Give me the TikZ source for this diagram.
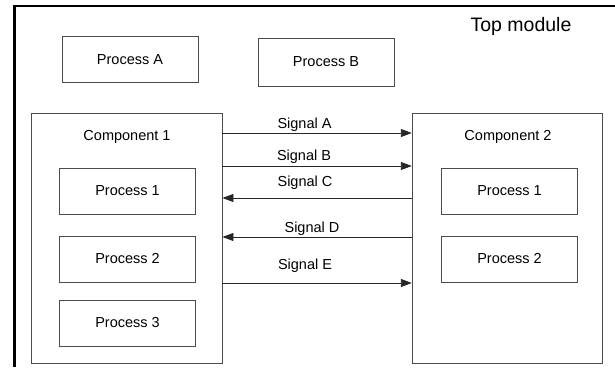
\documentclass[tikz,border=0pt]{standalone}
\usepackage{fontspec}
\setmainfont{Liberation Sans}
\usetikzlibrary{arrows.meta}

\tikzset{
  box/.style={shape=rectangle,draw=black!70,line width=0.9pt,inner sep=0pt,
    font=\fontsize{14.5}{17}\selectfont},
  procbox/.style={box,minimum width=136pt,minimum height=46pt},
  compbox/.style={box,minimum width=190.5pt,minimum height=250pt},
  txt/.style={anchor=base,inner sep=0pt,font=\fontsize{14.5}{17}\selectfont},
  sig/.style={draw=black!85,line width=0.9pt,-{Triangle[length=11pt,width=8pt]}}
}

\begin{document}
\begin{tikzpicture}[x=1pt,y=-1pt]
\useasboundingbox (0,0) rectangle (615,367);
% top module frame
\draw[line width=2.5pt] (615,6) -- (14.5,6) -- (14.5,367);
\node[txt,font=\fontsize{19.5}{23}\selectfont] (top) at (521,31) {Top module};
\node[procbox] (pA) at (130,59.7) {Process A};
\node[procbox,minimum height=48pt] (pB) at (326,62) {Process B};
% components
\node[compbox] (comp1) at (126.75,238) {};
\node[compbox] (comp2) at (507.5,238) {};
\node[txt] (c1name) at (127,140) {Component 1};
\node[txt] (c2name) at (508,140) {Component 2};
\node[procbox] (c1p1) at (127.5,191) {Process 1};
\node[procbox] (c1p2) at (127.5,259) {Process 2};
\node[procbox] (c1p3) at (127.5,323) {Process 3};
\node[procbox] (c2p1) at (509.5,191) {Process 1};
\node[procbox] (c2p2) at (509.5,259) {Process 2};
% signals
\coordinate (sA) at (0,133);
\coordinate (sB) at (0,166);
\coordinate (sC) at (0,198);
\coordinate (sD) at (0,237);
\coordinate (sE) at (0,283);
\draw [sig] (comp1.east |- sA) -- (comp2.west |- sA);
\draw [sig] (comp1.east |- sB) -- (comp2.west |- sB);
\draw [sig] (comp2.west |- sC) -- (comp1.east |- sC);
\draw [sig] (comp2.west |- sD) -- (comp1.east |- sD);
\draw [sig] (comp1.east |- sE) -- (comp2.west |- sE);
\node[txt] (lA) at (304.5,128) {Signal A};
\node[txt] (lB) at (304,160) {Signal B};
\node[txt] (lC) at (305,186) {Signal C};
\node[txt] (lD) at (312,232) {Signal D};
\node[txt] (lE) at (305,269) {Signal E};
\end{tikzpicture}
\end{document}
